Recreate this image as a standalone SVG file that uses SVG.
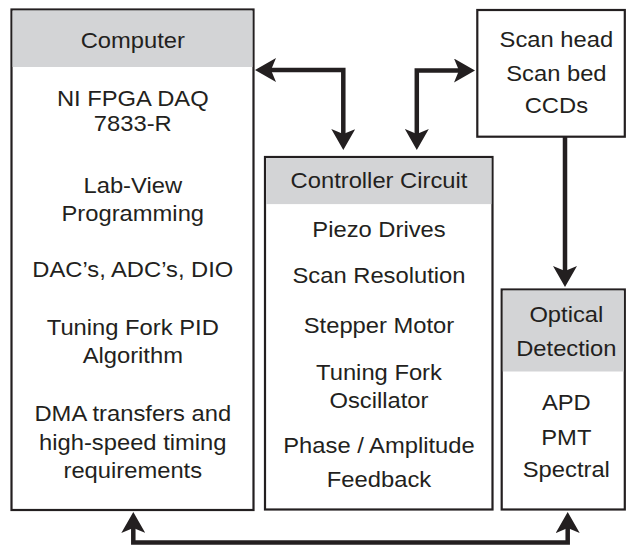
<svg xmlns="http://www.w3.org/2000/svg" width="626" height="546" viewBox="0 0 626 546">
  <style>
    .box { fill: #ffffff; stroke: #231f20; stroke-width: 2.2; }
    .head { fill: #d3d4d6; }
    .t { font-family: "Liberation Sans", Arial, Helvetica, sans-serif; font-size: 22.2px; fill: #231f20; text-anchor: middle; }
    .wire { fill: none; stroke: #231f20; stroke-width: 4.5; stroke-linejoin: miter; }
  </style>
  <defs>
    <marker id="arrow" viewBox="0 0 21 24" refX="5" refY="12" markerWidth="21" markerHeight="24" markerUnits="userSpaceOnUse" orient="auto-start-reverse">
      <path d="M0,0 L21,12 L0,24 L5,12 Z" fill="#231f20"/>
    </marker>
  </defs>

  <!-- Computer -->
  <g id="computer">
    <rect class="box" x="11.5" y="9.5" width="242" height="500.5"/>
    <rect class="head" x="12.6" y="10.6" width="239.8" height="56.4"/>
    <!-- labels are set slightly wide: x values are divided by the 1.07 stretch -->
    <g transform="scale(1.07,1)">
      <text class="t" x="124.1" y="48">Computer</text>
      <text class="t" x="124.1" y="106">NI FPGA DAQ</text>
      <text class="t" x="124.1" y="131.5">7833-R</text>
      <text class="t" x="124.1" y="193">Lab-View</text>
      <text class="t" x="124.1" y="221.5">Programming</text>
      <text class="t" x="124.1" y="277.5">DAC’s, ADC’s, DIO</text>
      <text class="t" x="124.1" y="335">Tuning Fork PID</text>
      <text class="t" x="124.1" y="363.5">Algorithm</text>
      <text class="t" x="124.1" y="421.5">DMA transfers and</text>
      <text class="t" x="124.1" y="450">high-speed timing</text>
      <text class="t" x="124.1" y="478.5">requirements</text>
    </g>
  </g>

  <!-- Controller Circuit -->
  <g id="controller">
    <rect class="box" x="265" y="157" width="227.5" height="352.5"/>
    <rect class="head" x="266.1" y="158.1" width="225.3" height="46"/>
    <g transform="scale(1.07,1)">
      <text class="t" x="354.2" y="188.5">Controller Circuit</text>
      <text class="t" x="354.2" y="237.5">Piezo Drives</text>
      <text class="t" x="354.2" y="283.5">Scan Resolution</text>
      <text class="t" x="354.2" y="333.5">Stepper Motor</text>
      <text class="t" x="354.2" y="380">Tuning Fork</text>
      <text class="t" x="354.2" y="408.5">Oscillator</text>
      <text class="t" x="354.2" y="453.5">Phase / Amplitude</text>
      <text class="t" x="354.2" y="487">Feedback</text>
    </g>
  </g>

  <!-- Scan head / bed / CCDs -->
  <g id="scanner">
    <rect class="box" x="477.3" y="10" width="147.5" height="126.7"/>
    <g transform="scale(1.07,1)">
      <text class="t" x="520" y="47">Scan head</text>
      <text class="t" x="520" y="81.5">Scan bed</text>
      <text class="t" x="520" y="113.5">CCDs</text>
    </g>
  </g>

  <!-- Optical Detection -->
  <g id="optical">
    <rect class="box" x="501.7" y="289.5" width="123.1" height="220"/>
    <rect class="head" x="502.8" y="290.6" width="120.9" height="80.9"/>
    <g transform="scale(1.07,1)">
      <text class="t" x="529.3" y="322">Optical</text>
      <text class="t" x="529.3" y="356">Detection</text>
      <text class="t" x="529.3" y="410">APD</text>
      <text class="t" x="529.3" y="445">PMT</text>
      <text class="t" x="529.3" y="477">Spectral</text>
    </g>
  </g>

  <!-- Connectors -->
  <g id="connectors">
    <path class="wire" d="M271,70 H343.3 V134" marker-start="url(#arrow)" marker-end="url(#arrow)"/>
    <path class="wire" d="M416.8,134 V70.5 H459" marker-start="url(#arrow)" marker-end="url(#arrow)"/>
    <path class="wire" d="M565,137 V271" marker-end="url(#arrow)"/>
    <path class="wire" d="M133.3,528 V542.5 H567.7 V528" marker-start="url(#arrow)" marker-end="url(#arrow)"/>
  </g>
</svg>
